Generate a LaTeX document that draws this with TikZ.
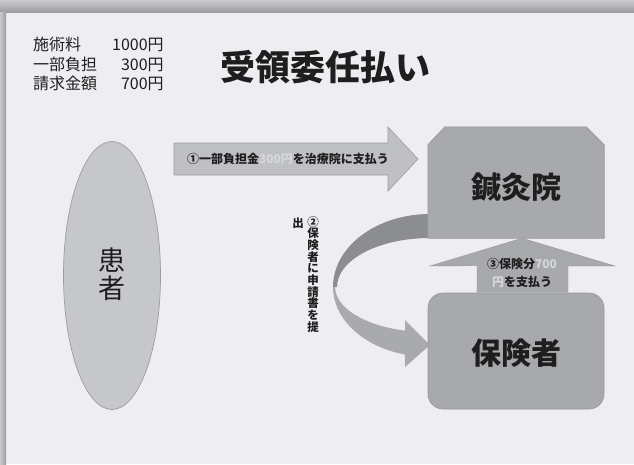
\documentclass[tikz,border=0pt]{standalone}
\usepackage{fontspec}
\setmainfont{Noto Sans CJK JP}
\usetikzlibrary{shapes.geometric,calc}
\definecolor{bg}{HTML}{EEEEF2}
\definecolor{shtop}{HTML}{CACACE}
\definecolor{shbot}{HTML}{9E9EA2}
\definecolor{boxfill}{HTML}{A7A9AC}
\definecolor{boxedge}{HTML}{949699}
\definecolor{ellfill}{HTML}{C5C7CB}
\definecolor{elledge}{HTML}{9A9CA0}
\definecolor{arrowfill}{HTML}{BFC0C4}
\definecolor{arrowedge}{HTML}{9C9DA1}
\definecolor{curvedark}{HTML}{8B8D90}
\definecolor{curvelight}{HTML}{A8AAAD}
\definecolor{soft}{HTML}{D6D7DB}
\definecolor{ink}{HTML}{1E1E1E}
\newcommand\mytightlines{\lineskiplimit -50pt\lineskip 0pt\relax}
\begin{document}
\begin{tikzpicture}[x=1pt,y=1pt,
  box/.style={draw=boxedge, fill=boxfill, line width=0.6pt, inner sep=0pt},
  biglbl/.style={text=ink, font=\bfseries\fontsize{30}{32}\selectfont},
  small/.style={text=ink, font=\bfseries\fontsize{12}{18}\selectfont, align=center, inner sep=0pt},
  vert/.style={text=ink, font=\bfseries\fontsize{11.5}{11.7}\selectfont\mytightlines, align=center, inner sep=0pt}]
\useasboundingbox (0,0) rectangle (634,-464);
% background and shadow of the slide
\fill[bg] (0,0) rectangle (634,-464);
\shade[top color=shtop, bottom color=shbot] (0,0) rectangle (634,-12);
\shade[left color=shtop, right color=shbot] (0,-12) rectangle (6,-464);

% top-left table
\node[anchor=north west, inner sep=0pt, text=ink, font=\fontsize{16}{19.5}\selectfont] (fees) at (33,-37)
  {\begin{tabular}{@{}l@{\hspace{15pt}}r@{}}施術料 & 1000円\\ 一部負担 & 300円\\ 請求金額 & 700円\end{tabular}};
% title
\node[text=ink, font=\bfseries\fontsize{35}{40}\selectfont] (title) at (325,-67) {受領委任払い};

% curved arrow (2)
\fill[curvedark] (430,-214) arc[start angle=90, end angle=180, x radius=97, y radius=73]
  -- (337,-287) arc[start angle=180, end angle=90, x radius=93, y radius=49] -- cycle;
\fill[curvelight] (333,-287) arc[start angle=180, end angle=255, x radius=97, y radius=70]
  -- (405,-367) -- (430,-345) -- (405,-320) -- (405,-330.6)
  arc[start angle=255.6, end angle=180, x radius=93, y radius=45] -- cycle;

% patient
\node[ellipse, draw=elledge, fill=ellfill, line width=0.7pt, minimum width=97pt, minimum height=268pt, inner sep=0pt] (kanja) at (112,-275.5) {};
\node[text=ink, font=\fontsize{27}{28}\selectfont, align=center, inner sep=0pt] (kanjaT) at (112,-274) {患\\者};

% clinic (chamfered top corners)
\node[inner sep=0pt, minimum width=176pt, minimum height=111pt] (shinkyu) at (516,-182.5) {};
\draw[draw=boxedge, fill=boxfill, line width=0.6pt]
  (shinkyu.south west) -- ($(shinkyu.north west)+(0,-18)$) -- ($(shinkyu.north west)+(17,0)$)
  -- ($(shinkyu.north east)+(-18,0)$) -- ($(shinkyu.north east)+(0,-18)$) -- (shinkyu.south east) -- cycle;
\node[biglbl] (shinkyuT) at (516,-188) {鍼灸院};

% insurer
\node[box, rounded corners=15pt, minimum width=176pt, minimum height=116pt] (hoken) at (516,-351) {};
\node[biglbl] (hokenT) at (516,-353) {保険者};

% arrow (1)
\draw[fill=arrowfill, draw=arrowedge, line width=0.6pt]
  (174,-143) -- (388,-143) -- (388,-127) -- (418,-159) -- (388,-191) -- (388,-175) -- (174,-175) -- cycle;
\node[small] (a1T) at (288,-159) {①一部負担金{\color{soft}300円}を治療院に支払う};

% arrow (3)
\fill[boxfill] ($(hoken.north)+(-39,0)$) -- ++(0,27) -- (430,-266) -- ($(shinkyu.south)+(6,0)$) -- (615,-266) -- (568,-266) -- ($(hoken.north)+(52,0)$) -- cycle;
\draw[boxedge, line width=0.4pt] ($(hoken.north)+(-39,0)$) -- ++(0,27) -- (430,-266) -- ($(shinkyu.south)+(6,0)$) -- (615,-266) -- (568,-266) -- ($(hoken.north)+(52,0)$);
\node[small] (a3T) at (522,-272.5) {③保険分{\color{soft}700}\\{\color{soft}円}を支払う};

% vertical label (2)
\node[vert, anchor=north] (a2T) at (313,-216) {②\\保\\険\\者\\に\\申\\請\\書\\を\\提};
\node[vert, anchor=north] (a2T2) at (298,-218) {出};
\end{tikzpicture}
\end{document}
